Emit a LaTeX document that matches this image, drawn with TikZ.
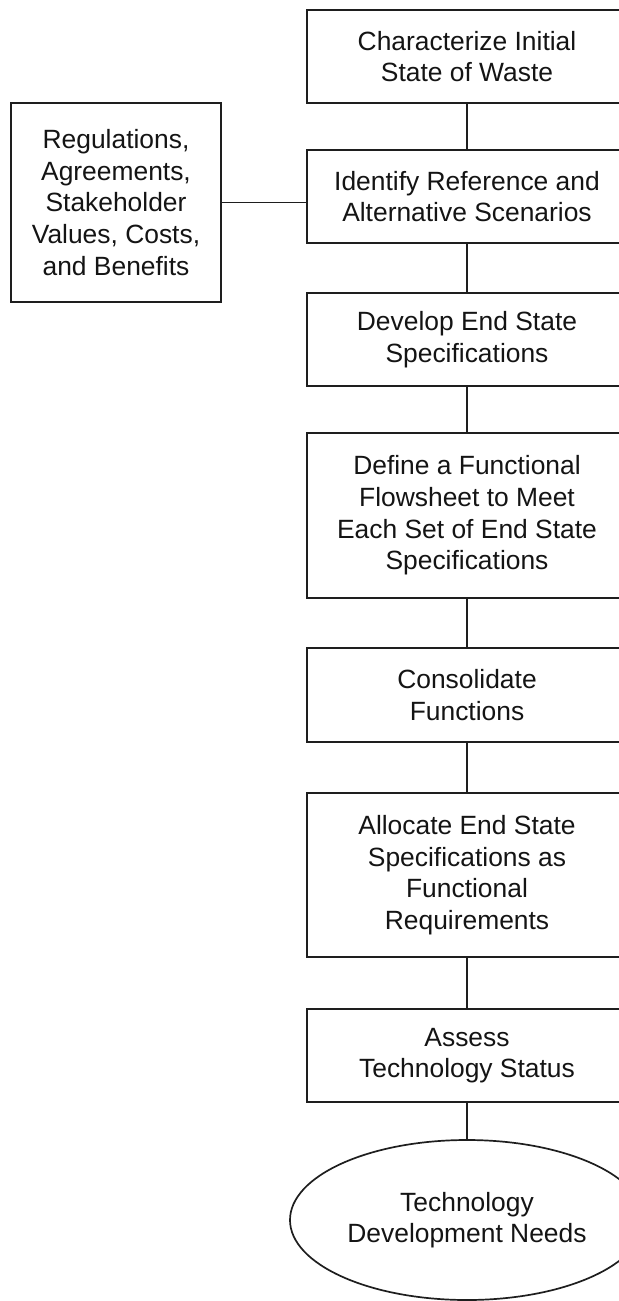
\documentclass[tikz,border=0pt]{standalone}
\usepackage{fontspec}
\setmainfont{Liberation Sans}
\usetikzlibrary{shapes.geometric}
\definecolor{InkLine}{HTML}{1E1E1E}
\definecolor{InkText}{HTML}{141414}

\begin{document}
\begin{tikzpicture}[x=0.5pt,y=-0.5pt,
		stepbox/.style={draw=InkLine, line width=0.85pt, minimum width=160pt, inner sep=0pt, align=center, text=InkText, font=\fontsize{13.2}{15.8}\selectfont},
		sidebox/.style={stepbox, minimum width=105pt, minimum height=99.5pt},
		endoval/.style={stepbox, ellipse, minimum width=177pt, minimum height=80pt},
		link/.style={draw=InkLine, line width=0.85pt}]
		\useasboundingbox (0,0) rectangle (619,1301);
		% Main column of steps
		\node[stepbox, minimum height=46.5pt] (charact) at (467,56.5) {Characterize Initial\\State of Waste};
		\node[stepbox, minimum height=46.5pt] (identify) at (467,196.5) {Identify Reference and\\Alternative Scenarios};
		\node[stepbox, minimum height=46.5pt] (develop) at (467,339.5) {Develop End State\\Specifications};
		\node[stepbox, minimum height=82.5pt] (define) at (467,515.5) {Define a Functional\\Flowsheet to Meet\\Each Set of End State\\Specifications};
		\node[stepbox, minimum height=47pt] (consol) at (467,695) {Consolidate\\Functions};
		\node[stepbox, minimum height=82pt] (allocate) at (467,875) {Allocate End State\\Specifications as\\Functional\\Requirements};
		\node[stepbox, minimum height=46.5pt] (assess) at (467,1055.5) {Assess\\Technology Status};
		\node[endoval] (needs) at (467,1220) {Technology\\Development Needs};
		% Side input
		\node[sidebox] (regs) at (116,202.5) {Regulations,\\Agreements,\\Stakeholder\\Values, Costs,\\and Benefits};

		\draw[link] (charact) -- (identify);
		\draw[link] (identify) -- (develop);
		\draw[link] (develop) -- (define);
		\draw[link] (define) -- (consol);
		\draw[link] (consol) -- (allocate);
		\draw[link] (allocate) -- (assess);
		\draw[link] (assess) -- (needs);
		\draw[link] (regs.east) -- (regs.east -| identify.west);
	\end{tikzpicture}
\end{document}
